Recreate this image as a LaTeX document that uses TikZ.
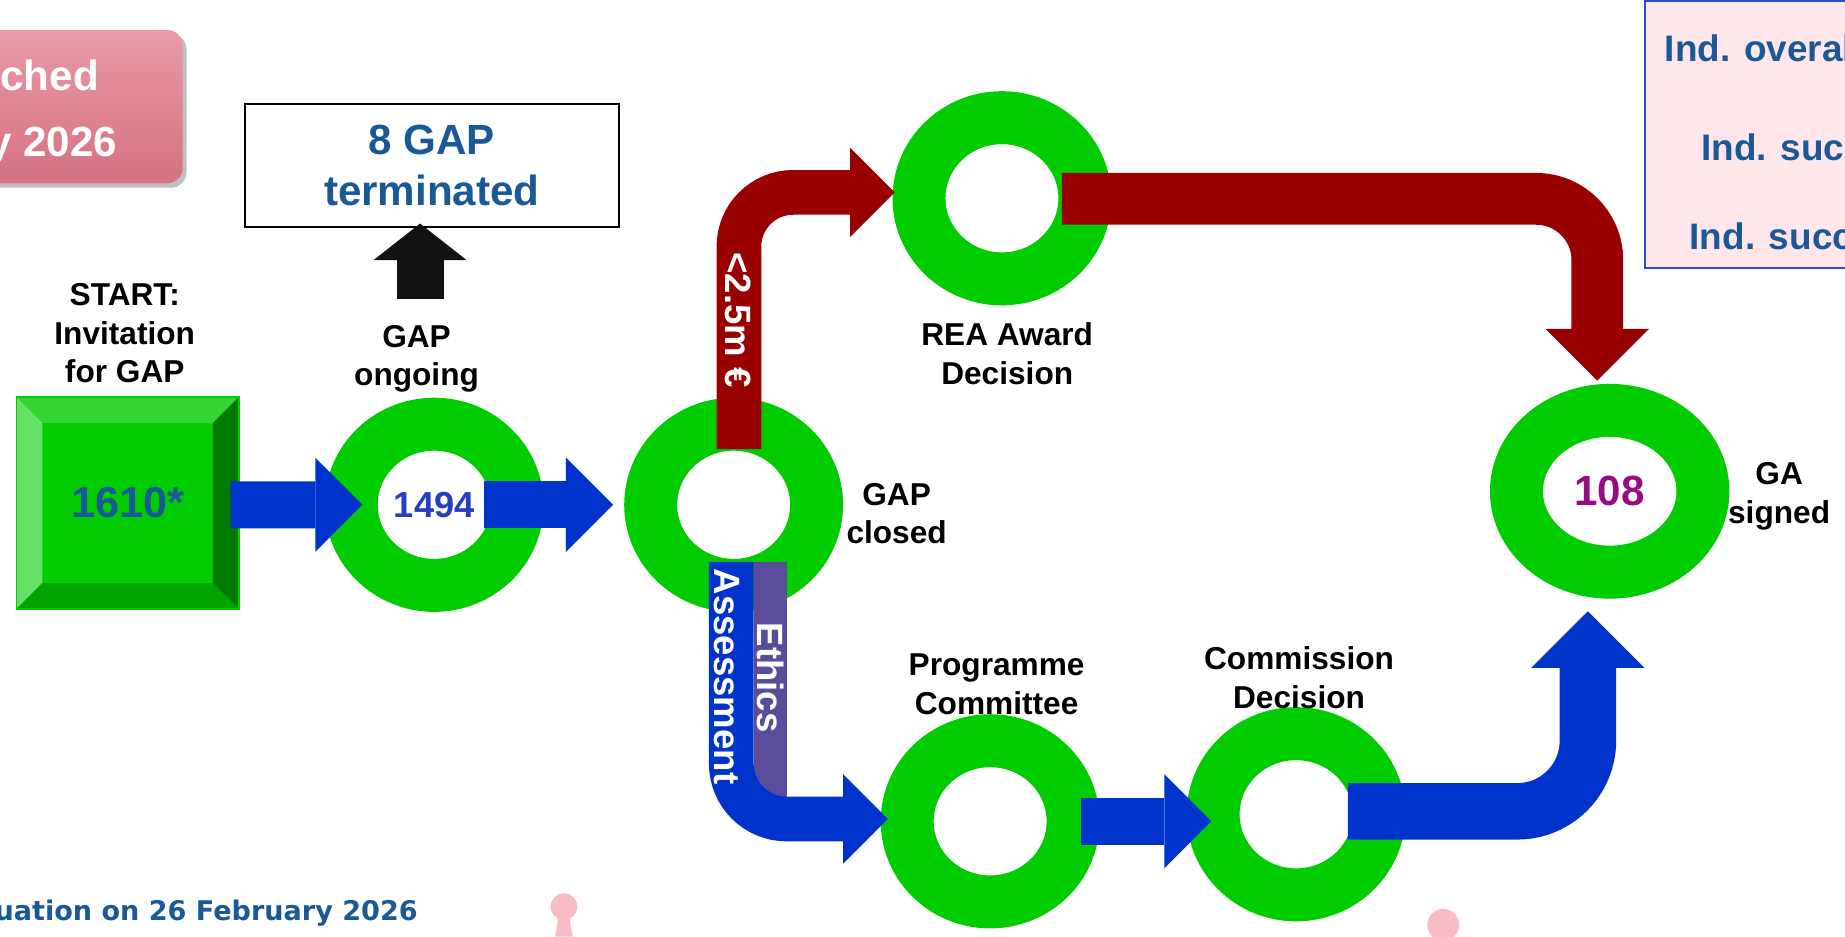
\documentclass[tikz,border=0pt]{standalone}
\usepackage{fontspec}
\setmainfont{Liberation Sans}
\newfontfamily\footfont{DejaVu Sans}
\usetikzlibrary{shapes.geometric,arrows.meta,calc}
\definecolor{ringgreen}{RGB}{0,204,0}
\definecolor{arrowblue}{RGB}{0,51,204}
\definecolor{arrowred}{RGB}{153,0,0}
\definecolor{ethicsviolet}{RGB}{91,75,155}
\definecolor{textblue}{RGB}{26,88,150}
\definecolor{numblue}{RGB}{35,64,192}
\definecolor{numpurple}{RGB}{153,12,128}
\definecolor{indfill}{RGB}{255,230,234}
\definecolor{indedge}{RGB}{46,78,191}
\definecolor{pinktop}{RGB}{233,155,166}
\definecolor{pinkbot}{RGB}{213,113,129}
\definecolor{pinpink}{RGB}{248,187,198}
\definecolor{bevtop}{RGB}{51,214,51}
\definecolor{bevleft}{RGB}{102,224,102}
\definecolor{bevright}{RGB}{0,122,0}
\definecolor{bevbottom}{RGB}{0,163,0}
\newlength{\dpx}
\setlength{\dpx}{0.011767cm}

\begin{document}
\begin{tikzpicture}[x=0.011767cm,y=-0.011767cm]
        \tikzstyle{every node}=[inner sep=0pt,outer sep=0pt]
        \tikzstyle{ring}=[ellipse,draw=ringgreen,line width=45\dpx,minimum width=141\dpx,minimum height=137\dpx]
        \tikzstyle{lbl}=[align=center,font=\fontsize{9}{11}\selectfont\bfseries]
        \tikzstyle{bartext}=[rotate=-90,text=white,font=\fontsize{10.4}{12}\selectfont\bfseries]
        \tikzstyle{indtext}=[anchor=base west,text=textblue,font=\fontsize{10.5}{13}\selectfont\bfseries]
        \tikzset{fat/.code={\pgfmathsetmacro\fatlen{#1*0.011767}%
          \tikzset{line width=\fatlen cm,-{Triangle[length=\fatlen cm,width'=0pt 2,line width=0pt]}}}}
        \useasboundingbox (0,0) rectangle (1568,796);
        \clip (0,0) rectangle (1568,796);
        \fill[white] (0,0) rectangle (1568,796);

        % launch box, top left
        \fill[black,opacity=0.25,rounded corners=13\dpx] (-30,29) rectangle (158.5,159.5);
        \shade[top color=pinktop,bottom color=pinkbot,rounded corners=13\dpx] (-30,25.5) rectangle (155.3,155.6);
        \node[anchor=base east,text=white,font=\fontsize{12}{14}\selectfont\bfseries] (launch1) at (84,76.5) {ched};
        \node[anchor=base east,text=white,font=\fontsize{12}{14}\selectfont\bfseries] (launch2) at (99.6,133) {y 2026};

        % indicator box, top right
        \draw[draw=indedge,fill=indfill,line width=1.8\dpx] (1398,0.6) rectangle (1620,228);
        \node[indtext] (ind1) at (1415,52.4) {Ind. overal};
        \node[indtext] (ind2) at (1446,136) {Ind. succ};
        \node[indtext] (ind3) at (1436,212.4) {Ind. succ};

        % start square
        \node[fill=ringgreen,minimum width=189\dpx,minimum height=180\dpx,text=textblue,font=\fontsize{12.3}{14}\selectfont\bfseries] (sq) at (108.5,427.5) {1610*};
        \fill[bevtop] (sq.north west) -- (sq.north east) -- ($(sq.north east)+(-22,22)$) -- ($(sq.north west)+(22,22)$) -- cycle;
        \fill[bevleft] (sq.north west) -- ($(sq.north west)+(22,22)$) -- ($(sq.south west)+(22,-22)$) -- (sq.south west) -- cycle;
        \fill[bevright] (sq.north east) -- (sq.south east) -- ($(sq.south east)+(-22,-22)$) -- ($(sq.north east)+(-22,22)$) -- cycle;
        \fill[bevbottom] (sq.south west) -- (sq.south east) -- ($(sq.south east)+(-22,-22)$) -- ($(sq.south west)+(22,-22)$) -- cycle;
        \draw[ringgreen,line width=1.5\dpx] (sq.north west) rectangle (sq.south east);

        % rings
        \node[ring,text=numblue,font=\fontsize{10.3}{12}\selectfont\bfseries] (r1) at (369,429) {1494};
        \node[ring] (r2) at (623.5,429) {};
        \node[ring] (r3) at (851.5,168.5) {};
        \node[ring] (r4) at (841.5,698) {};
        \node[ring] (r5) at (1101.5,692) {};
        \node[ring,minimum width=158.5\dpx,minimum height=137.5\dpx,text=numpurple,font=\fontsize{12}{14}\selectfont\bfseries] (r6) at (1368,417.5) {108};

        % labels
        \node[lbl] (lsq) at (106,283.2) {START:\\Invitation\\for GAP};
        \node[lbl] (lr1) at (354,305) {GAP\\ongoing};
        \node[lbl] (lr2) at (762,436.5) {GAP\\closed};
        \node[lbl] (lr3) at (856,300.5) {REA Award\\Decision};
        \node[lbl] (lr4) at (847,581.5) {Programme\\Committee};
        \node[lbl] (lr5) at (1104,576) {Commission\\Decision};
        \node[lbl] (lr6) at (1512,422) {GA\\signed};

        \node[draw=black,line width=1.8\dpx,minimum width=318\dpx,minimum height=104.6\dpx,align=center,text=textblue,font=\fontsize{12}{14.7}\selectfont\bfseries] (term) at (367,140.7) {8 GAP\\terminated};

        % arrows
        \fill[ethicsviolet] (640.5,477.5) rectangle (668.5,677);
        \draw[arrowblue,fat=40] ($(sq.east)+(-7,1.5)$) -- ($(r1)+(-61,0)$);
        \draw[arrowblue,fat=40] ($(r1)+(42,0)$) -- ($(r2)+(-102.5,0)$);
        \draw[arrowblue,fat=40] ($(r4)+(77,0)$) -- ($(r5)+(-72,6)$);
        \draw[arrowred,fat=38,rounded corners=46\dpx] ($(r2)+(4.5,-47.3)$) |- ($(r3)+(-91,-5)$);
        \draw[arrowred,fat=44,rounded corners=52\dpx] ($(r3)+(51,0.5)$) -| ($(r6)+(-10.5,-94)$);
        \draw[arrowblue,fat=38,rounded corners=47\dpx] ($(r2)+(-2,48.5)$) |- ($(r4)+(-87,-2)$);
        \draw[arrowblue,fat=48,rounded corners=60\dpx] ($(r5)+(44,-2.5)$) -| ($(r6)+(-18.5,102)$);
        \draw[black!93,line width=40\dpx,-{Triangle[length=0.3648cm,width=0.9296cm,line width=0pt]}] ($(lr1.north)+(3,-22)$) -- ($(term.south)+(-10,-3)$);

        \node[bartext] (tlimit) at (627.5,272) {<2.5m €};
        \node[bartext] (tassess) at (618,575) {Assessment};
        \node[bartext] (tethics) at (655,576) {Ethics};

        % footer
        \node[anchor=base east,text=textblue,font=\footfont\bfseries\fontsize{7.7}{9}\selectfont] (foot) at (355,782) {uation on 26 February 2026};
        \fill[pinpink] (479.3,770.5) circle (11.3);
        \fill[pinpink] (473,777) .. controls (474.5,783) .. (471.7,796) -- (487,796) .. controls (484,783) .. (485.6,777) -- cycle;
        \fill[pinpink] (1226.5,786) circle (13.5);
\end{tikzpicture}
\end{document}
